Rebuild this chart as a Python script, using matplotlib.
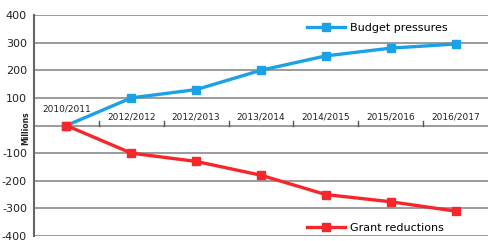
import matplotlib
matplotlib.use("Agg")
import matplotlib.pyplot as plt
import numpy as np

categories = ["2010/2011", "2012/2012", "2012/2013", "2013/2014", "2014/2015", "2015/2016", "2016/2017"]
budget_pressures = [0, 100, 130, 200, 252, 280, 295]
grant_reductions = [0, -100, -130, -180, -250, -276, -310]
yticks = [400, 300, 200, 100, 0, -100, -200, -300, -400]

blue = "#1ba1e6"
red = "#f5272a"

fig = plt.figure(figsize=(4.88, 2.41), dpi=100)
ax = fig.add_axes([34/488, 5/241, 454/488, 221/241])
x = np.arange(len(categories))

ax.set_xlim(-0.5, len(categories) - 0.5)
ax.set_ylim(-400, 400)
ax.set_yticks(yticks)
ax.set_yticklabels(["" if v == 0 else str(v) for v in yticks], fontsize=8, color="#222222")
ax.tick_params(axis="y", length=0, pad=5)
ax.grid(axis="y", color="#8a8a8a", linewidth=1.2)
ax.set_axisbelow(True)
for s in ["top", "right", "bottom"]:
    ax.spines[s].set_visible(False)
ax.spines["left"].set_color("#666666")
ax.spines["left"].set_linewidth(1.5)

# category boundary ticks on the zero line
ax.set_xticks(x[:-1] + 0.5)
ax.set_xticklabels([])
ax.tick_params(axis="x", length=0)
for b in x[:-1] + 0.5:
    ax.plot([b, b], [0, 18], color="#555555", linewidth=1.0, zorder=2)

for i, lab in enumerate(categories):
    dy = 45 if i == 0 else 15
    ax.text(x[i], dy, lab, ha="center", va="bottom", fontsize=6.5, color="#222222")

l1, = ax.plot(x, budget_pressures, color=blue, marker="s", markersize=6, linewidth=2.4,
              label="Budget pressures", zorder=3)
l2, = ax.plot(x, grant_reductions, color=red, marker="s", markersize=6, linewidth=2.4,
              label="Grant reductions", zorder=3)

leg1 = ax.legend(handles=[l1], loc="upper left", bbox_to_anchor=(0.58, 1.01), frameon=False,
                 fontsize=8, handlelength=3.4, handletextpad=0.4)
ax.add_artist(leg1)
ax.legend(handles=[l2], loc="lower left", bbox_to_anchor=(0.58, -0.03), frameon=False,
          fontsize=8, handlelength=3.4, handletextpad=0.4)

fig.text(26/488, 1 - 128/241, "Millions", rotation=90, ha="center", va="center",
         fontsize=5.5, fontweight="bold", color="#222222")

fig.savefig("out.png", dpi=100)
